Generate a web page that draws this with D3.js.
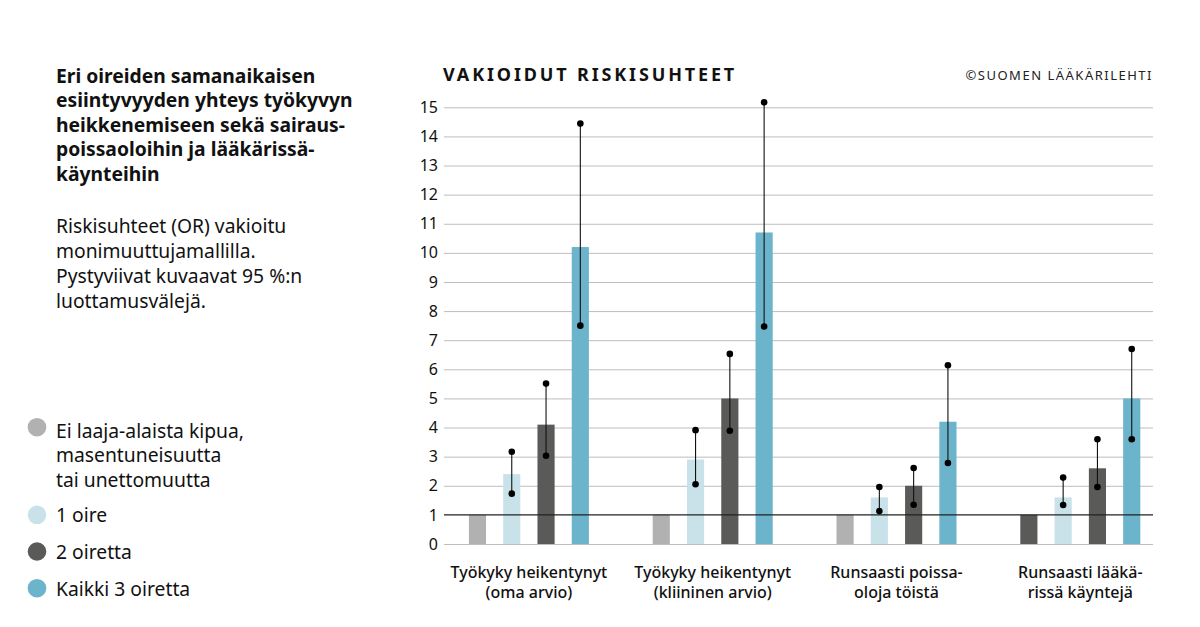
<!DOCTYPE html>
<html><head><meta charset="utf-8">
<script src="https://cdn.jsdelivr.net/npm/d3@7"></script>
<style>
body{margin:0;background:#fff;}
svg{display:block;}
text{font-family:"Noto Sans",sans-serif;}
</style></head>
<body>
<svg id="c" width="1200" height="627"></svg>
<script>
// ---- data ----
const groups = ["Työkyky heikentynyt|(oma arvio)", "Työkyky heikentynyt|(kliininen arvio)", "Runsaasti poissa-|oloja töistä", "Runsaasti lääkä-|rissä käyntejä"];
const seriesNames = ["Ei laaja-alaista kipua,|masentuneisuutta|tai unettomuutta", "1 oire", "2 oiretta", "Kaikki 3 oiretta"];
const seriesColors = ["#b1b1b1", "#c9e2ea", "#5a5a59", "#6bb4cc"];
// odds ratios per group: [ref, 1 oire, 2 oiretta, 3 oiretta]
const orValues = [
  [1, 2.4, 4.1, 10.2],
  [1, 2.9, 5.0, 10.7],
  [1, 1.6, 2.0, 4.2],
  [1, 1.6, 2.6, 5.0]
];
const ciLow = [
  [null, 1.73, 3.03, 7.5],
  [null, 2.05, 3.89, 7.47],
  [null, 1.13, 1.35, 2.78],
  [null, 1.34, 1.96, 3.6]
];
const ciHigh = [
  [null, 3.17, 5.51, 14.44],
  [null, 3.91, 6.53, 15.17],
  [null, 1.96, 2.61, 6.14],
  [null, 2.28, 3.6, 6.7]
];
// the reference bar of the last group is drawn in dark grey in the original
const colorOverride = [[3, 0, "#5a5a59"]];
const yTicks = [0,1,2,3,4,5,6,7,8,9,10,11,12,13,14,15];

const svg = d3.select("#c");

// ---- left texts ----
const titleLines = ["Eri oireiden samanaikaisen","esiintyvyyden yhteys työkyvyn","heikkenemiseen sekä sairaus-","poissaoloihin ja lääkärissä-","käynteihin"];
svg.append("g").selectAll("text").data(titleLines).join("text")
  .attr("x",56).attr("y",(d,i)=>83+i*24.4)
  .attr("font-size",19.3).attr("font-weight",700).attr("fill","#111").text(d=>d);
const subLines = ["Riskisuhteet (OR) vakioitu","monimuuttujamallilla.","Pystyviivat kuvaavat 95 %:n","luottamusvälejä."];
svg.append("g").selectAll("text").data(subLines).join("text")
  .attr("x",56).attr("y",(d,i)=>232.5+i*25)
  .attr("font-size",19.3).attr("fill","#111").text(d=>d);

// ---- legend ----
const legY = [437.7, 522.3, 559, 595.7];
const leg = svg.append("g");
seriesNames.forEach((s,i)=>{
  leg.append("circle").attr("cx",37).attr("cy",legY[i]-(i===0?10.5:7.5)).attr("r",9.3).attr("fill",seriesColors[i]);
  s.split("|").forEach((ln,j)=>{
    leg.append("text").attr("x",56).attr("y",legY[i]+j*24.5).attr("font-size",19.3).attr("fill","#111").text(ln);
  });
});

// ---- chart ----
const x0 = 444, x1 = 1153;
const y = d3.scaleLinear().domain([0,15]).range([544,107.3]);
const xg = d3.scalePoint().domain(groups).range([528.9,1080.3]);
const xs = d3.scaleBand().domain(d3.range(4)).range([-60,60]).paddingInner(0.5).paddingOuter(0);

// header
svg.append("text").attr("x",443).attr("y",81).attr("font-size",18).attr("font-weight",700)
  .attr("letter-spacing",2.85).attr("fill","#111").text("VAKIOIDUT RISKISUHTEET");
svg.append("text").attr("x",1153).attr("y",80).attr("text-anchor","end").attr("font-size",13)
  .attr("letter-spacing",1.5).attr("fill","#222").text("©SUOMEN LÄÄKÄRILEHTI");

// grid via axis
const yAxis = d3.axisLeft(y).tickValues(yTicks).tickSize(-(x1-x0)).tickPadding(8).tickFormat(d3.format("d"));
const ga = svg.append("g").attr("transform",`translate(${x0},0)`).call(yAxis);
ga.select(".domain").remove();
ga.selectAll(".tick line").attr("stroke",d=>d===1?"none":"#bdbdbd").attr("stroke-width",1);
ga.selectAll(".tick text").attr("font-size",16).attr("fill","#111").attr("font-family","'Noto Sans',sans-serif").attr("x",-6);

// bars
const bars = [];
orValues.forEach((row,gi)=>row.forEach((v,si)=>{
  let col = seriesColors[si];
  colorOverride.forEach(o=>{ if(o[0]===gi && o[1]===si) col=o[2]; });
  bars.push({g:groups[gi],s:si,v:v,lo:ciLow[gi][si],hi:ciHigh[gi][si],col:col});
}));
svg.append("g").selectAll("rect").data(bars).join("rect")
  .attr("x",d=>xg(d.g)+xs(d.s)).attr("width",xs.bandwidth())
  .attr("y",d=>y(d.v)).attr("height",d=>y(0)-y(d.v)).attr("fill",d=>d.col);

// reference line at 1
svg.append("line").attr("x1",x0).attr("x2",x1).attr("y1",y(1)).attr("y2",y(1)).attr("stroke","#222").attr("stroke-width",1.2);

// error bars
const eb = bars.filter(d=>d.lo!==null);
const ge = svg.append("g");
ge.selectAll("line").data(eb).join("line")
  .attr("x1",d=>xg(d.g)+xs(d.s)+xs.bandwidth()/2).attr("x2",d=>xg(d.g)+xs(d.s)+xs.bandwidth()/2)
  .attr("y1",d=>y(d.lo)).attr("y2",d=>y(d.hi)).attr("stroke","#111").attr("stroke-width",1.1);
ge.selectAll("circle.lo").data(eb).join("circle").attr("class","lo")
  .attr("cx",d=>xg(d.g)+xs(d.s)+xs.bandwidth()/2).attr("cy",d=>y(d.lo)).attr("r",3.3).attr("fill","#000");
ge.selectAll("circle.hi").data(eb).join("circle").attr("class","hi")
  .attr("cx",d=>xg(d.g)+xs(d.s)+xs.bandwidth()/2).attr("cy",d=>y(d.hi)).attr("r",3.3).attr("fill","#000");

// x labels
const gl = svg.append("g");
groups.forEach(g=>{
  g.split("|").forEach((ln,j)=>{
    gl.append("text").attr("x",xg(g)).attr("y",578+j*20).attr("text-anchor","middle")
      .attr("font-size",16).attr("font-weight",500).attr("fill","#111").text(ln);
  });
});
</script>
</body></html>
